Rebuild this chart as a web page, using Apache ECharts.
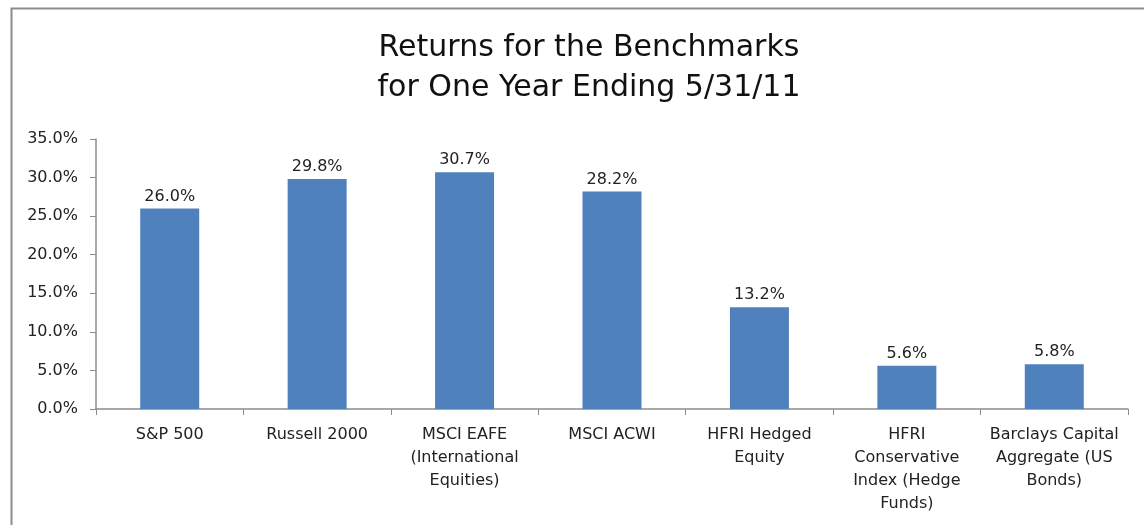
<!DOCTYPE html>
<html><head><meta charset="utf-8">
<script src="https://cdn.jsdelivr.net/npm/echarts@6/dist/echarts.min.js"></script>
<style>html,body{margin:0;padding:0;background:#fff}#c{width:1144px;height:525px}</style>
</head><body><div id="c"></div>
<script>
const categories = ["S&P 500", "Russell 2000", "MSCI EAFE\n(International\nEquities)", "MSCI ACWI", "HFRI Hedged\nEquity", "HFRI\nConservative\nIndex (Hedge\nFunds)", "Barclays Capital\nAggregate (US\nBonds)"];
const returns = [26.0, 29.8, 30.7, 28.2, 13.2, 5.6, 5.8];
const titleLines = ["Returns for the Benchmarks", "for One Year Ending 5/31/11"];
const FONT = "DejaVu Sans";
const chart = echarts.init(document.getElementById('c'));
chart.setOption({
  animation: false,
  graphic: [{type:'rect', shape:{x:11.5,y:8.5,width:1200,height:600}, style:{fill:'none', stroke:'#8c8c8c', lineWidth:2}}],
  title: {text: titleLines.join('\n'), left: 584, textAlign: 'center', top: 23,
    textStyle: {fontFamily: FONT, fontWeight: 'normal', fontSize: 30, color: '#111', lineHeight: 40}},
  grid: {left: 96, right: 16, top: 139, bottom: 116},
  xAxis: {type: 'category', data: categories,
    axisLine: {lineStyle: {color: '#8c8c8c', width: 1.5}},
    axisTick: {show: true, length: 6, lineStyle: {color: '#8c8c8c'}},
    axisLabel: {interval: 0, fontFamily: FONT, fontSize: 16, color: '#222', lineHeight: 23, margin: 14}},
  yAxis: {type: 'value', min: 0, max: 35, interval: 5,
    axisLine: {show: true, lineStyle: {color: '#8c8c8c', width: 1.5}},
    axisTick: {show: true, length: 6, lineStyle: {color: '#8c8c8c'}},
    splitLine: {show: false},
    axisLabel: {fontFamily: FONT, fontSize: 16, color: '#222', margin: 18,
      formatter: v => v.toFixed(1) + '%'}},
  series: [{type: 'bar', data: returns, barWidth: 59,
    itemStyle: {color: '#4f81bd'},
    label: {show: true, position: 'top', fontFamily: FONT, fontSize: 16, color: '#222', distance: 4,
      formatter: p => p.value.toFixed(1) + '%'}}]
});
</script></body></html>
